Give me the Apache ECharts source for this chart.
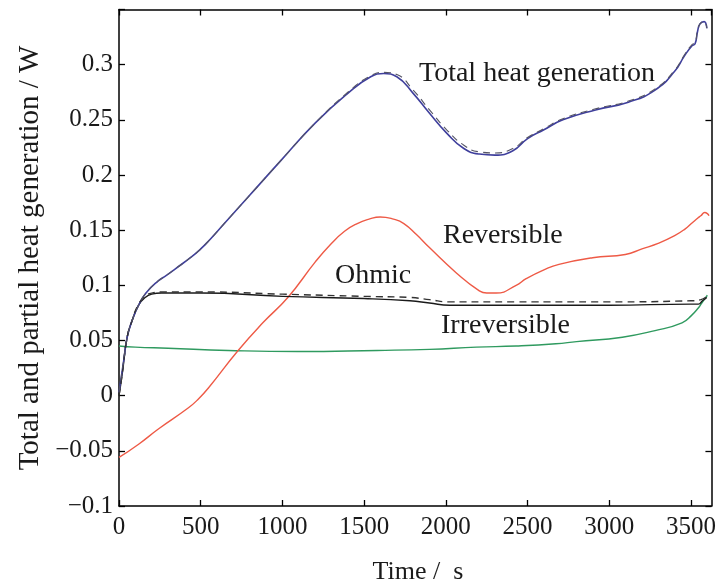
<!DOCTYPE html>
<html>
<head>
<meta charset="utf-8">
<script src="https://cdn.jsdelivr.net/npm/echarts@6/dist/echarts.min.js"></script>
<style>
html,body{margin:0;padding:0;background:#fff;}
#c{width:719px;height:584px;}
</style>
</head>
<body>
<div id="c"></div>
<script>
// Time (s), heat (W)
const xTicks = [0, 500, 1000, 1500, 2000, 2500, 3000, 3500];
const yTicks = [-0.1, -0.05, 0, 0.05, 0.1, 0.15, 0.2, 0.25, 0.3];

const totalSolid = [[0,0.003],[15,0.018],[30,0.033],[50,0.053],[80,0.068],[120,0.082],[165,0.093],[240,0.104],[290,0.109],[345,0.115],[445,0.126],[500,0.133],[547,0.140],[650,0.157],[790,0.180],[990,0.213],[1200,0.247],[1400,0.274],[1540,0.289],[1620,0.292],[1700,0.289],[1800,0.274],[1900,0.256],[2005,0.238],[2110,0.224],[2205,0.219],[2300,0.218],[2410,0.222],[2500,0.233],[2600,0.241],[2716,0.250],[2916,0.259],[3117,0.266],[3280,0.277],[3400,0.294],[3460,0.308],[3505,0.317],[3525,0.319],[3540,0.330],[3555,0.337],[3580,0.339],[3597,0.333]];
const totalDashed = [[0,0.003],[15,0.018],[30,0.033],[50,0.053],[80,0.068],[120,0.082],[165,0.093],[240,0.104],[290,0.109],[345,0.115],[445,0.126],[500,0.133],[547,0.140],[650,0.157],[790,0.180],[990,0.213],[1200,0.247],[1400,0.275],[1540,0.290],[1620,0.293],[1700,0.291],[1800,0.277],[1900,0.259],[2005,0.241],[2110,0.227],[2205,0.221],[2300,0.220],[2410,0.224],[2500,0.234],[2600,0.242],[2716,0.251],[2916,0.260],[3117,0.267],[3280,0.278],[3400,0.295],[3460,0.309],[3505,0.318],[3525,0.320],[3540,0.331],[3555,0.337],[3580,0.339],[3597,0.333]];
const ohmicSolid = [[0,0.0],[20,0.02],[50,0.053],[80,0.068],[120,0.082],[160,0.089],[200,0.092],[260,0.093],[500,0.093],[1000,0.090],[1500,0.088],[1780,0.086],[1900,0.084],[2023,0.082],[2430,0.082],[3000,0.082],[3500,0.083],[3545,0.083],[3570,0.086],[3597,0.089]];
const ohmicDashed = [[0,0.0],[20,0.02],[50,0.053],[80,0.068],[120,0.083],[160,0.090],[200,0.093],[260,0.094],[500,0.094],[1000,0.092],[1500,0.090],[1780,0.089],[1900,0.087],[2023,0.085],[2430,0.085],[3000,0.085],[3500,0.086],[3560,0.087],[3597,0.090]];
const irreversible = [[0,0.045],[100,0.044],[300,0.043],[668,0.041],[1094,0.040],[1580,0.041],[1900,0.042],[2187,0.044],[2430,0.045],[2673,0.047],[2800,0.049],[3080,0.053],[3280,0.059],[3445,0.066],[3505,0.073],[3542,0.079],[3566,0.084],[3585,0.088],[3600,0.091]];
const reversible = [[0,-0.056],[120,-0.044],[243,-0.030],[425,-0.011],[486,-0.003],[547,0.007],[729,0.041],[880,0.066],[1033,0.089],[1200,0.121],[1294,0.137],[1380,0.149],[1458,0.156],[1530,0.160],[1598,0.162],[1680,0.160],[1743,0.156],[1820,0.146],[1901,0.134],[2066,0.111],[2205,0.095],[2250,0.093],[2308,0.093],[2430,0.100],[2491,0.106],[2600,0.114],[2692,0.119],[2898,0.125],[3098,0.128],[3200,0.133],[3299,0.138],[3400,0.145],[3463,0.151],[3510,0.157],[3542,0.161],[3560,0.163],[3584,0.166],[3600,0.165],[3610,0.163]];

const FONT = 'Liberation Serif';
const chart = echarts.init(document.getElementById('c'), null, {renderer: 'canvas'});

function yFmt(v) {
  const r = Math.round(v * 100) / 100;
  if (!yTicks.some(t => Math.abs(t - r) < 1e-9)) return '';
  return r < 0 ? '\u2212' + Math.abs(r) : String(r);
}
function xFmt(v) {
  return xTicks.indexOf(Math.round(v)) >= 0 ? String(Math.round(v)) : '';
}

const axisLine = {show: true, onZero: false, lineStyle: {color: '#000', width: 1.5}};
const tick = {show: true, inside: true, length: 6, lineStyle: {color: '#000', width: 1.3}};

function line(data, color, width, dashed, z) {
  return {
    type: 'line', data: data, showSymbol: false, smooth: 0.5, z: z,
    lineStyle: {color: color, width: width, type: dashed ? [7, 5] : 'solid'},
    emphasis: {disabled: true}, silent: true
  };
}

chart.setOption({
  animation: false,
  backgroundColor: '#fff',
  grid: {left: 119, right: 2, top: 9.5, bottom: 78},
  xAxis: [
    {type: 'value', min: 0, max: 3625, interval: 500, position: 'bottom',
     axisLine: axisLine, axisTick: tick, splitLine: {show: false},
     axisLabel: {formatter: xFmt, fontFamily: FONT, fontSize: 25, color: '#1a1a1a', margin: 9, showMaxLabel: false}},
    {type: 'value', min: 0, max: 3625, interval: 500, position: 'top',
     axisLine: axisLine, axisTick: tick, splitLine: {show: false}, axisLabel: {show: false}}
  ],
  yAxis: [
    {type: 'value', min: -0.1, max: 0.35, interval: 0.05, position: 'left',
     axisLine: axisLine, axisTick: tick, splitLine: {show: false},
     axisLabel: {formatter: yFmt, fontFamily: FONT, fontSize: 25, color: '#1a1a1a', margin: 6}},
    {type: 'value', min: -0.1, max: 0.35, interval: 0.05, position: 'right',
     axisLine: axisLine, axisTick: tick, splitLine: {show: false}, axisLabel: {show: false}}
  ],
  series: [
    line(irreversible, '#2f9a5f', 1.4, false, 2),
    line(reversible, '#ee5a46', 1.4, false, 2),
    line(ohmicSolid, '#1a1a1a', 1.4, false, 3),
    line(ohmicDashed, '#333333', 1.4, true, 4),
    line(totalSolid, '#3f3f9c', 1.6, false, 3),
    line(totalDashed, '#555566', 1.1, true, 4)
  ],
  graphic: [
    {type: 'text', x: 418, y: 572, style: {text: 'Time /  s', font: '26px "Liberation Serif"', fill: '#1a1a1a', align: 'center', verticalAlign: 'middle'}},
    {type: 'text', x: 30, y: 258, rotation: Math.PI / 2, style: {text: 'Total and partial heat generation / W', font: '29px "Liberation Serif"', fill: '#1a1a1a', align: 'center', verticalAlign: 'middle'}},
    {type: 'text', x: 419, y: 74, style: {text: 'Total heat generation', font: '28px "Liberation Serif"', fill: '#1a1a1a', align: 'left', verticalAlign: 'middle'}},
    {type: 'text', x: 443, y: 236, style: {text: 'Reversible', font: '28px "Liberation Serif"', fill: '#1a1a1a', align: 'left', verticalAlign: 'middle'}},
    {type: 'text', x: 335, y: 276, style: {text: 'Ohmic', font: '28px "Liberation Serif"', fill: '#1a1a1a', align: 'left', verticalAlign: 'middle'}},
    {type: 'text', x: 441, y: 326, style: {text: 'Irreversible', font: '28px "Liberation Serif"', fill: '#1a1a1a', align: 'left', verticalAlign: 'middle'}}
  ]
});
</script>
</body>
</html>
